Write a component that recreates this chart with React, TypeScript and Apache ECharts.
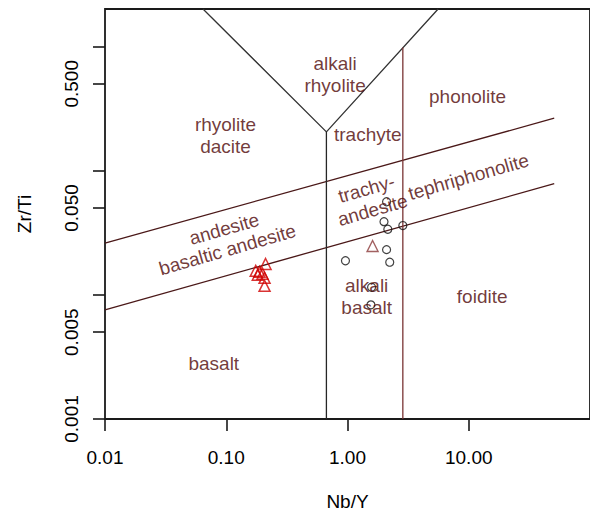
import React, { useEffect, useRef } from "react";
import * as echarts from "echarts";

// Axis ticks and labels
const xTicks = [0.01, 0.1, 1, 10];
const yTicks = [0.001, 0.005, 0.01, 0.05, 0.1, 0.5, 1];
const yLabels = [0.001, 0.005, 0.05, 0.5];

// Samples: Nb/Y and Zr/Ti
const redNbY = [0.211, 0.175, 0.188, 0.199, 0.182, 0.207, 0.207];
const redZrTi = [0.0177, 0.0156, 0.0153, 0.0148, 0.0145, 0.0137, 0.0118];
const brownNbY = [1.61];
const brownZrTi = [0.0247];
const circleNbY = [2.1, 2.0, 2.15, 2.86, 2.1, 2.23, 0.962, 1.58, 1.56];
const circleZrTi = [0.0561, 0.0388, 0.0337, 0.0361, 0.0231, 0.0183, 0.0188, 0.0115, 0.0083];

// Field boundaries (Nb/Y, Zr/Ti)
const upperDiagonal = [[0.01, 0.0261], [50.7, 0.264]];
const lowerDiagonal = [[0.01, 0.00757], [50.7, 0.0785]];
const forkLines = [[0.0643, 2], [0.67, 0.205], [5.59, 2]];
const leftStem = [[0.67, 0.001], [0.67, 0.205]];
const rightStem = [[2.86, 0.001], [2.86, 0.98]];

// Field names
const fieldNames = [
  "alkali\nrhyolite",
  "phonolite",
  "rhyolite\ndacite",
  "trachyte",
  "trachy-\nandesite",
  "tephriphonolite",
  "andesite",
  "basaltic andesite",
  "alkali\nbasalt",
  "foidite",
  "basalt",
];
const fieldNbY = [0.79, 9.78, 0.0986, 1.47, 1.52, 9.96, 0.0962, 0.1023, 1.44, 12.9, 0.0789];
const fieldZrTi = [0.594, 0.396, 0.19, 0.197, 0.0586, 0.0893, 0.0339, 0.0231, 0.00966, 0.00966, 0.00281];
const fieldTilt = [0, 0, 0, 0, 16, 16, 16, 16, 0, 0, 0];

const pairs = (xs: number[], ys: number[]) => xs.map((x, i) => [x, ys[i]]);

const FONT = "'Liberation Sans', Arial, sans-serif";

export default function App() {
  const ref = useRef<HTMLDivElement>(null);

  useEffect(() => {
    if (!ref.current) return;
    const chart = echarts.init(ref.current, undefined, { renderer: "svg" });

    const boundary = (data: number[][], color: string) => ({
      type: "line",
      data,
      symbol: "none",
      silent: true,
      clip: true,
      z: 2,
      lineStyle: { color, width: 1.3 },
    });

    chart.setOption({
      animation: false,
      backgroundColor: "#ffffff",
      grid: {
        show: true,
        left: 105,
        right: -10,
        top: 9,
        bottom: 94,
        borderColor: "#1a1a1a",
        borderWidth: 1.8,
        backgroundColor: "transparent",
      },
      xAxis: {
        type: "log",
        logBase: 10,
        min: 0.01,
        max: 100,
        name: "Nb/Y",
        nameLocation: "middle",
        nameGap: 73,
        nameTextStyle: { fontSize: 19, color: "#000", fontFamily: FONT },
        axisLine: { show: false },
        splitLine: { show: false },
        minorTick: { show: false },
        axisTick: { show: true, length: 12, customValues: xTicks, lineStyle: { color: "#1a1a1a", width: 1.6 } },
        axisLabel: {
          customValues: xTicks,
          margin: 29,
          fontSize: 19,
          color: "#000",
          fontFamily: FONT,
          formatter: (v: number) => Number(v).toFixed(2),
        },
      },
      yAxis: {
        type: "log",
        logBase: 10,
        min: 0.001,
        max: 2,
        name: "Zr/Ti",
        nameLocation: "middle",
        nameGap: 71,
        nameRotate: 90,
        nameTextStyle: { fontSize: 19, color: "#000", fontFamily: FONT },
        axisLine: { show: false },
        splitLine: { show: false },
        minorTick: { show: false },
        axisTick: { show: true, length: 12, customValues: yTicks, lineStyle: { color: "#1a1a1a", width: 1.6 } },
        axisLabel: {
          customValues: yLabels,
          rotate: 90,
          margin: 24,
          fontSize: 19,
          color: "#000",
          fontFamily: FONT,
          formatter: (v: number) => Number(v).toFixed(3),
        },
      },
      series: [
        boundary(upperDiagonal, "#4a1818"),
        boundary(lowerDiagonal, "#4a1818"),
        boundary(forkLines, "#333333"),
        boundary(leftStem, "#262626"),
        boundary(rightStem, "#7a3434"),
        {
          type: "scatter",
          data: pairs(circleNbY, circleZrTi),
          symbol: "circle",
          symbolSize: 8,
          silent: true,
          z: 3,
          itemStyle: { color: "rgba(0,0,0,0)", borderColor: "#111", borderWidth: 1.2 },
        },
        {
          type: "scatter",
          data: pairs(brownNbY, brownZrTi),
          symbol: "triangle",
          symbolSize: 11,
          silent: true,
          z: 3,
          itemStyle: { color: "rgba(0,0,0,0)", borderColor: "#8b3a3a", borderWidth: 1.4 },
        },
        {
          type: "scatter",
          data: pairs(redNbY, redZrTi),
          symbol: "triangle",
          symbolSize: 11,
          silent: true,
          z: 3,
          itemStyle: { color: "rgba(0,0,0,0)", borderColor: "#d00000", borderWidth: 1.5 },
        },
        {
          type: "scatter",
          silent: true,
          z: 5,
          symbolSize: 0,
          data: fieldNames.map((name, i) => ({
            name,
            value: [fieldNbY[i], fieldZrTi[i]],
            label: { rotate: fieldTilt[i] },
          })),
          label: {
            show: true,
            position: "inside",
            formatter: "{b}",
            align: "center",
            verticalAlign: "middle",
            fontSize: 19,
            lineHeight: 22,
            color: "#4e0606",
            fontFamily: FONT,
          },
        },
      ],
    });

    return () => chart.dispose();
  }, []);

  return (
    <div
      ref={ref}
      style={{ position: "fixed", left: 0, top: 0, width: 590, height: 516 }}
    />
  );
}
